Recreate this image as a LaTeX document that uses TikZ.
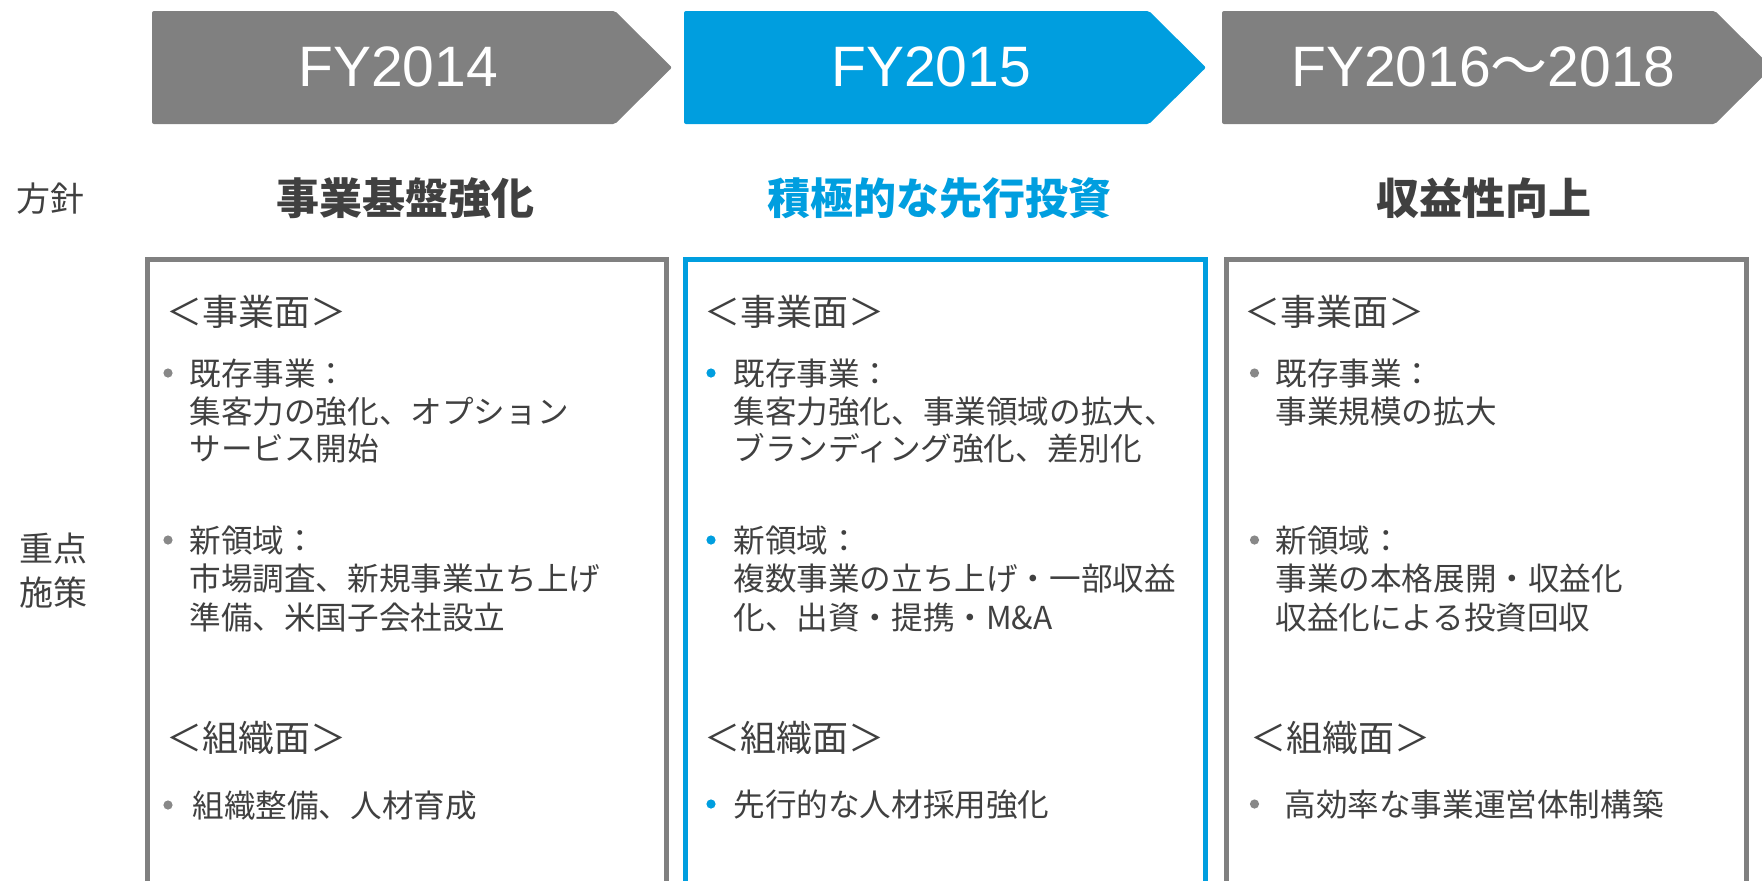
\documentclass[tikz,border=0pt]{standalone}
\usepackage{fontspec}
\setmainfont{Noto Sans CJK JP}
\newfontfamily\fyfont{Liberation Sans}
\newfontfamily\jpfont{Noto Sans CJK JP}
\definecolor{arrowgray}{HTML}{808080}
\definecolor{accent}{HTML}{009EDF}
\definecolor{textgray}{HTML}{404040}
\definecolor{dotgray}{HTML}{888888}
\tikzset{
  chevron/.style={rounded corners=1pt},
  fylabel/.style={anchor=base, inner sep=0, text=white, font=\fyfont\fontsize{28.5}{30}\selectfont},
  sidelabel/.style={anchor=center, inner sep=0, text=textgray, font=\jpfont\fontsize{17}{20}\selectfont, text height=15pt, text depth=2pt},
  policy/.style={anchor=center, inner sep=0, text=textgray, font=\jpfont\bfseries\fontsize{21.5}{24}\selectfont, text height=18.9pt, text depth=2.6pt},
  framebox/.style={line width=2.5pt},
  section/.style={anchor=west, inner sep=0, text=textgray, font=\jpfont\fontsize{18}{20}\selectfont, text height=15.8pt, text depth=2.2pt},
  body/.style={anchor=west, inner sep=0, text=textgray, font=\jpfont\fontsize{15.8}{18}\selectfont, text height=13.9pt, text depth=1.9pt},
  dot/.style={circle, inner sep=0, minimum size=4.6pt, draw=none},
}
\begin{document}
\begin{tikzpicture}[x=0.5pt,y=-0.5pt]
\useasboundingbox (0,0) rectangle (1762,880);
\clip (0,0) rectangle (1762,880);
% header arrows
\fill[arrowgray,chevron] (152,11) -- (615,11) -- (672,67.5) -- (615,124) -- (152,124) -- cycle;
\fill[accent,chevron] (684,11) -- (1149,11) -- (1206,67.5) -- (1149,124) -- (684,124) -- cycle;
\fill[arrowgray,chevron] (1222,11) -- (1715,11) -- (1772,67.5) -- (1715,124) -- (1222,124) -- cycle;
\node[fylabel] (fy1) at (398,86) {FY2014};
\node[fylabel] (fy2) at (931,86) {FY2015};
\node[fylabel] (fy3) at (1483,86) {FY2016{\jpfont 〜}2018};
% side labels
\node[sidelabel] (hoshin) at (51,198) {方針};
\node[sidelabel] (juten) at (53,548) {重点};
\node[sidelabel] (shisaku) at (53,592) {施策};
% policies
\node[policy] (pol1) at (405,198) {事業基盤強化};
\node[policy, text=accent] (pol2) at (939,198) {積極的な先行投資};
\node[policy] (pol3) at (1484,198) {収益性向上};
% frames
\draw[framebox, arrowgray] (147,259.5) rectangle (666.5,884);
\draw[framebox, accent] (685,259.5) rectangle (1205,884);
\draw[framebox, arrowgray] (1226,259.5) rectangle (1746,884);
% box 1
\node[section] (s1a) at (166,312) {＜事業面＞};
\node[dot, fill=dotgray] (d1a) at (168,373) {};
\node[body] (t1a1) at (189,373) {既存事業：};
\node[body] (t1a2) at (189,411) {集客力の強化、オプション};
\node[body] (t1a3) at (189,448) {サービス開始};
\node[dot, fill=dotgray] (d1b) at (168,540) {};
\node[body] (t1b1) at (189,540) {新領域：};
\node[body] (t1b2) at (189,578) {市場調査、新規事業立ち上げ};
\node[body] (t1b3) at (189,617) {準備、米国子会社設立};
\node[section] (s1b) at (166,738) {＜組織面＞};
\node[dot, fill=dotgray] (d1c) at (168,805) {};
\node[body] (t1c1) at (192,805) {組織整備、人材育成};
% box 2
\node[section] (s2a) at (704,312) {＜事業面＞};
\node[dot, fill=accent] (d2a) at (711,373) {};
\node[body] (t2a1) at (733,373) {既存事業：};
\node[body] (t2a2) at (733,411) {集客力強化、事業領域の拡大、};
\node[body] (t2a3) at (733,448) {ブランディング強化、差別化};
\node[dot, fill=accent] (d2b) at (711,540) {};
\node[body] (t2b1) at (733,540) {新領域：};
\node[body] (t2b2) at (733,578) {複数事業の立ち上げ・一部収益};
\node[body] (t2b3) at (733,617) {化、出資・提携・M\&A};
\node[section] (s2b) at (704,738) {＜組織面＞};
\node[dot, fill=accent] (d2c) at (711,804) {};
\node[body] (t2c1) at (733,804) {先行的な人材採用強化};
% box 3
\node[section] (s3a) at (1244,312) {＜事業面＞};
\node[dot, fill=dotgray] (d3a) at (1254.5,373) {};
\node[body] (t3a1) at (1275,373) {既存事業：};
\node[body] (t3a2) at (1275,411) {事業規模の拡大};
\node[dot, fill=dotgray] (d3b) at (1254.5,540) {};
\node[body] (t3b1) at (1275,540) {新領域：};
\node[body] (t3b2) at (1275,578) {事業の本格展開・収益化};
\node[body] (t3b3) at (1275,617) {収益化による投資回収};
\node[section] (s3b) at (1250,738) {＜組織面＞};
\node[dot, fill=dotgray] (d3c) at (1254.5,804) {};
\node[body] (t3c1) at (1284,804) {高効率な事業運営体制構築};
\end{tikzpicture}
\end{document}
